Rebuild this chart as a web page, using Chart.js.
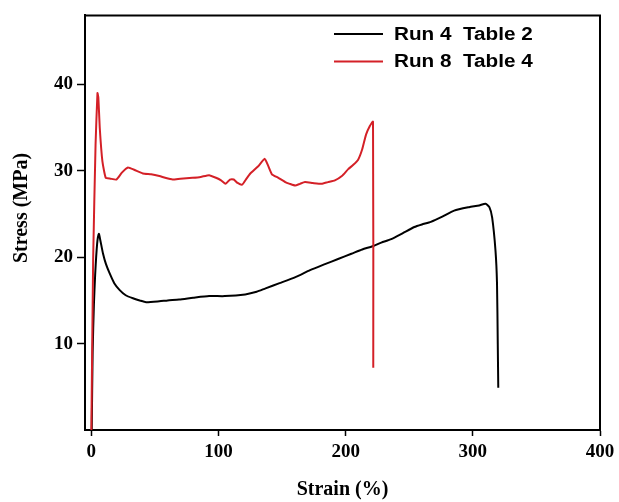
<!DOCTYPE html>
<html>
<head>
<meta charset="utf-8">
<script src="https://cdn.jsdelivr.net/npm/chart.js@4.4.0/dist/chart.umd.min.js"></script>
<style>
    html, body { margin: 0; padding: 0; background: #fff; }
    #wrap { width: 619px; height: 502px; }
</style>
</head>
<body>
<div id="wrap"><canvas id="stressChart" width="619" height="502"></canvas></div>
<script>
// Run 4 (Table 2) - black
const run4Strain = [0.3, 1, 2, 3, 4.5, 5.9, 7, 9.2, 11.5, 14.5, 18, 22.3, 27, 32.7, 38, 43, 53.5, 60, 69, 80, 92.6, 105, 121, 130, 137, 148, 160.5, 172, 183.7, 194, 204.5, 213, 221.7, 228, 235.8, 245, 254, 260, 267, 276, 285.3, 297, 305, 310, 313, 315.2, 317.8, 319, 319.6, 320];
const run4Stress = [0, 9, 14.5, 18, 21.5, 22.7, 22, 20.4, 19.2, 18.1, 17.0, 16.2, 15.6, 15.25, 15.0, 14.8, 14.9, 15.0, 15.1, 15.3, 15.5, 15.5, 15.7, 16.0, 16.4, 17.0, 17.7, 18.5, 19.2, 19.8, 20.4, 20.9, 21.3, 21.7, 22.1, 22.8, 23.5, 23.8, 24.1, 24.7, 25.4, 25.8, 26.0, 26.2, 25.8, 24.6, 20.8, 17.0, 10, 4.9];

// Run 8 (Table 4) - red
const run8Strain = [0, 1.4, 3.3, 4.8, 5.5, 6.6, 8.7, 11.3, 15, 19.7, 24, 28.8, 34, 40.5, 47, 53.5, 58, 63.9, 70, 79.5, 86, 92.6, 98, 102, 105.6, 109, 112, 115, 118.6, 122, 125, 131, 136.3, 139, 142, 147, 152.5, 156, 160.3, 164, 168, 174, 181, 186, 191.5, 197, 202, 206, 209.8, 213, 216, 219, 221.5, 221.7];
const run8Stress = [0, 19.7, 33, 39.0, 38.5, 35, 31.1, 29.2, 29.1, 29.0, 29.8, 30.4, 30.1, 29.7, 29.6, 29.4, 29.2, 29.0, 29.1, 29.2, 29.3, 29.5, 29.2, 28.9, 28.5, 29.0, 29.0, 28.6, 28.4, 29.1, 29.7, 30.5, 31.4, 30.6, 29.6, 29.2, 28.7, 28.5, 28.3, 28.5, 28.7, 28.6, 28.5, 28.7, 28.9, 29.4, 30.2, 30.7, 31.3, 32.5, 34.2, 35.2, 35.7, 7.2];

const xTicks = [0, 100, 200, 300, 400];
const yTicks = [10, 20, 30, 40];
const seriesLabels = ['Run 4  Table 2', 'Run 8  Table 4'];
const seriesColors = ['#000000', '#d42027'];
const yTitle = 'Stress (MPa)';

const toPoints = (xs, ys) => xs.map((x, i) => ({ x: x, y: ys[i] }));

const tickFont = { family: 'Liberation Serif', size: 19, weight: 'bold' };
const titleFont = { family: 'Liberation Serif', size: 20, weight: 'bold', lineHeight: 1.2 };

// box around the plot, y title and legend inside it
const framePlugin = {
    id: 'frame',
    afterDraw(chart) {
        const { ctx, chartArea: a } = chart;
        ctx.save();
        ctx.strokeStyle = '#000';
        ctx.lineWidth = 2;
        ctx.beginPath();
        ctx.moveTo(a.left, a.top);
        ctx.lineTo(a.right, a.top);
        ctx.lineTo(a.right, a.bottom);
        ctx.stroke();

        // y title, sits a bit above the middle of the axis
        ctx.save();
        ctx.translate(22, 208);
        ctx.rotate(-Math.PI / 2);
        ctx.font = 'bold 20px "Liberation Serif"';
        ctx.fillStyle = '#000';
        ctx.textAlign = 'center';
        ctx.textBaseline = 'middle';
        ctx.fillText(yTitle, 0, 0);
        ctx.restore();

        ctx.font = 'bold 18px "Liberation Sans"';
        ctx.textBaseline = 'middle';
        seriesLabels.forEach((label, i) => {
            const y = 34 + i * 27.5;
            ctx.strokeStyle = seriesColors[i];
            ctx.lineWidth = 2;
            ctx.beginPath();
            ctx.moveTo(334, y);
            ctx.lineTo(383, y);
            ctx.stroke();
            ctx.save();
            ctx.translate(394, y + 1);
            ctx.scale(1.15, 1);
            ctx.fillStyle = '#000';
            ctx.fillText(label, 0, 0);
            ctx.restore();
        });
        ctx.restore();
    }
};

new Chart(document.getElementById('stressChart'), {
    type: 'line',
    data: {
        datasets: [
            {
                label: seriesLabels[0],
                data: toPoints(run4Strain, run4Stress),
                borderColor: seriesColors[0],
                borderWidth: 2,
                pointRadius: 0,
                tension: 0.2,
                order: 1
            },
            {
                label: seriesLabels[1],
                data: toPoints(run8Strain, run8Stress),
                borderColor: seriesColors[1],
                borderWidth: 2,
                pointRadius: 0,
                tension: 0.15,
                order: 0
            }
        ]
    },
    options: {
        responsive: false,
        animation: false,
        layout: { padding: { top: 13, right: 19, left: 0, bottom: 0 } },
        plugins: {
            legend: { display: false },
            tooltip: { enabled: false }
        },
        scales: {
            x: {
                type: 'linear',
                min: -5,
                max: 400,
                afterBuildTicks: scale => { scale.ticks = xTicks.map(v => ({ value: v })); },
                afterFit: scale => {
                    scale.height = 72;
                    scale.paddingLeft = 0;
                    scale.paddingRight = 0;
                },
                grid: { drawOnChartArea: false, drawTicks: true, tickLength: 6, color: '#000', tickWidth: 1.5 },
                border: { display: true, color: '#000', width: 2 },
                ticks: { color: '#000', font: tickFont, padding: 5, maxRotation: 0 },
                title: { display: true, text: 'Strain (%)', color: '#000', font: titleFont, padding: { top: 0, bottom: 0 } }
            },
            y: {
                min: 0,
                max: 48,
                afterBuildTicks: scale => { scale.ticks = yTicks.map(v => ({ value: v })); },
                afterFit: scale => { scale.width = 85; },
                grid: { drawOnChartArea: false, drawTicks: true, tickLength: 8, color: '#000', tickWidth: 1.5 },
                border: { display: true, color: '#000', width: 2 },
                ticks: { color: '#000', font: tickFont, padding: 4 },
                title: { display: false }
            }
        }
    },
    plugins: [framePlugin]
});
</script>
</body>
</html>
